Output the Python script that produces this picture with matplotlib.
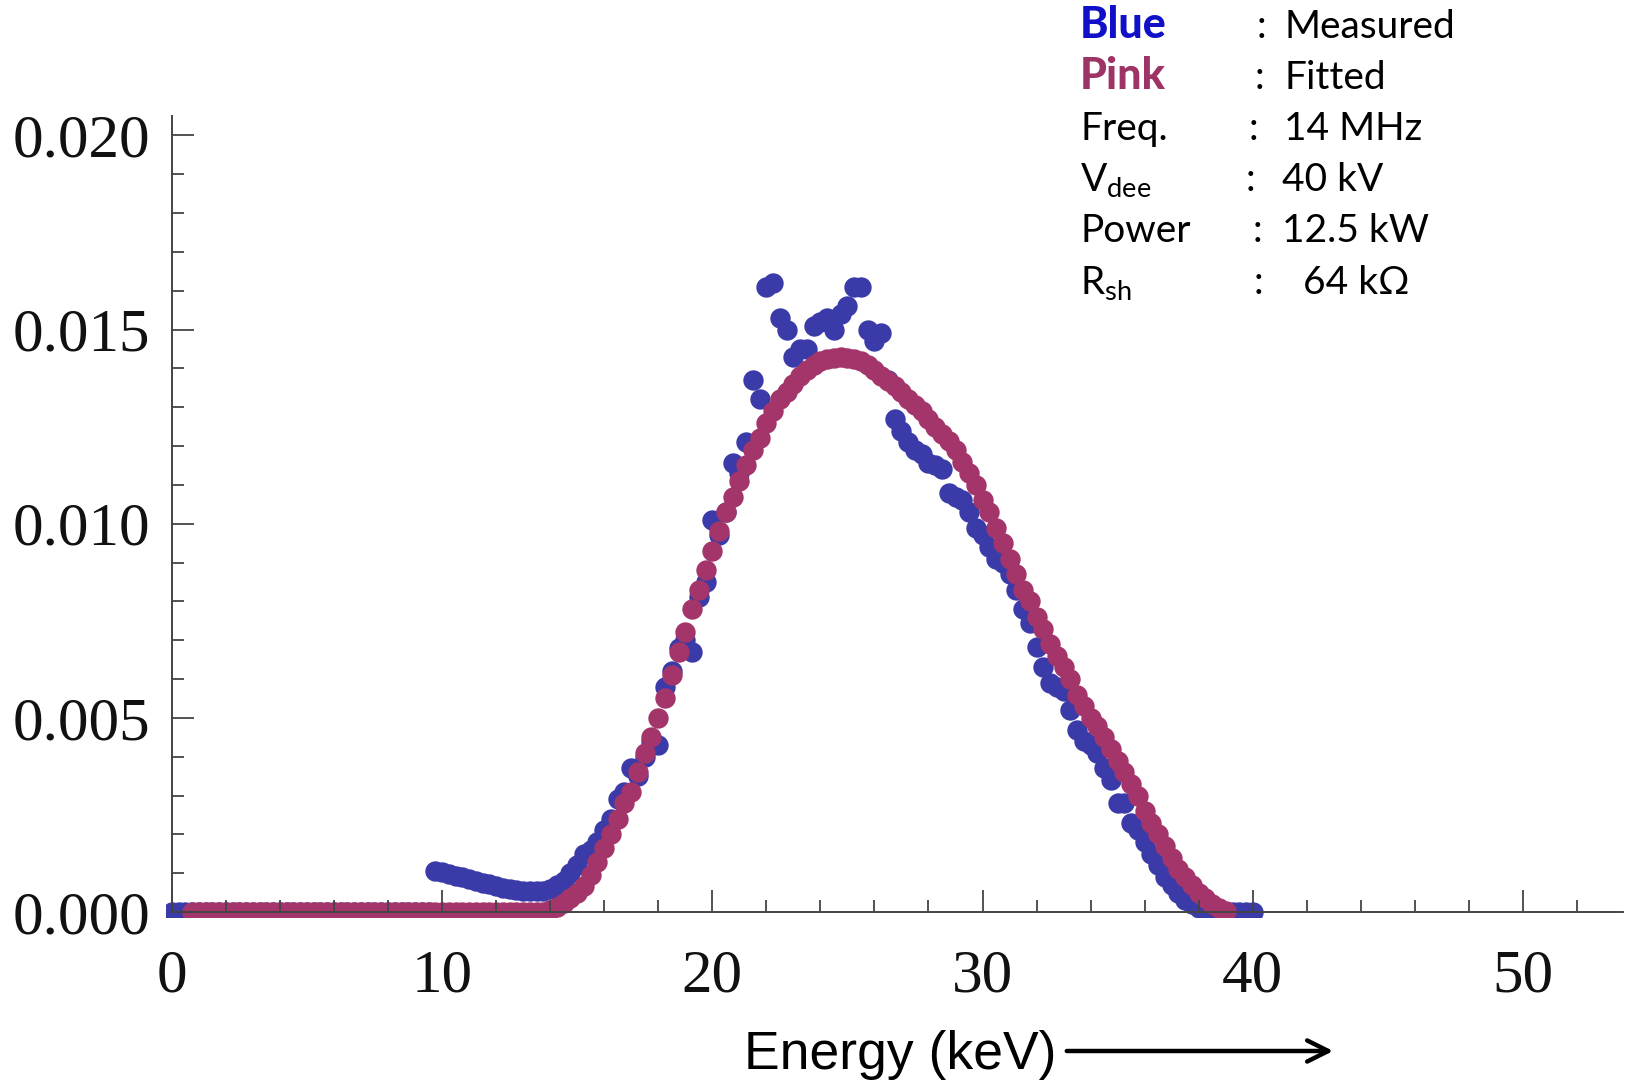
import numpy as np
import matplotlib
matplotlib.use("Agg")
import matplotlib.pyplot as plt
from matplotlib.ticker import MultipleLocator, FormatStrFormatter
from matplotlib.patches import FancyArrowPatch, Rectangle

# ---------------- data ----------------
step_kev = 0.25

measured_start_kev = 0.0
measured = ([0.0] * 39 + [
    0.00105,
    0.00102, 0.00098, 0.00094, 0.00090,
    0.00085, 0.00080, 0.00075, 0.00071,
    0.00067, 0.00063, 0.00060, 0.00057,
    0.00055, 0.00053, 0.00053, 0.00055,
    0.00060, 0.00070, 0.00080, 0.00100,
    0.00120, 0.00150, 0.00160, 0.00180,
    0.00210, 0.00240, 0.00290, 0.00310,
    0.00370, 0.00350, 0.00400, 0.00440,
    0.00430, 0.00580, 0.00620, 0.00680,
    0.00700, 0.00670, 0.00810, 0.00850,
    0.01010, 0.00970, 0.01030, 0.01157,
    0.01130, 0.01210, 0.01370, 0.01320,
    0.01610, 0.01620, 0.01530, 0.01500,
    0.01430, 0.01450, 0.01450, 0.01510,
    0.01520, 0.01530, 0.01500, 0.01540,
    0.01560, 0.01610, 0.01610, 0.01500,
    0.01470, 0.01490, 0.01370, 0.01270,
    0.01240, 0.01210, 0.01190, 0.01180,
    0.01157, 0.01150, 0.01140, 0.01080,
    0.01070, 0.01060, 0.01030, 0.00990,
    0.00970, 0.00940, 0.00910, 0.00900,
    0.00870, 0.00830, 0.00780, 0.00745,
    0.00683, 0.00630, 0.00590, 0.00580,
    0.00570, 0.00520, 0.00470, 0.00440,
    0.00430, 0.00410, 0.00370, 0.00340,
    0.00280, 0.00280, 0.00230, 0.00210,
    0.00180, 0.00150, 0.00120, 0.00090,
    0.00070, 0.00050, 0.00030, 0.00020,
    0.00010, 0.00003,
] + [0.0] * 7)

fitted_start_kev = 0.75
fitted = ([0.0] * 53 + [
    0.00005, 0.00012, 0.00022, 0.00035,
    0.00050, 0.00068, 0.00095, 0.00130,
    0.00165, 0.00200, 0.00240, 0.00280,
    0.00310, 0.00360, 0.00410, 0.00450,
    0.00500, 0.00550, 0.00610, 0.00670,
    0.00720, 0.00780, 0.00830, 0.00880,
    0.00930, 0.00980, 0.01030, 0.01070,
    0.01110, 0.01150, 0.01190, 0.01220,
    0.01260, 0.01290, 0.01320, 0.01340,
    0.01360, 0.01380, 0.01395, 0.01410,
    0.01420, 0.01425, 0.01428, 0.01430,
    0.01428, 0.01425, 0.01420, 0.01410,
    0.01395, 0.01380, 0.01368, 0.01355,
    0.01340, 0.01320, 0.01305, 0.01290,
    0.01270, 0.01250, 0.01230, 0.01212,
    0.01190, 0.01160, 0.01130, 0.01100,
    0.01060, 0.01030, 0.00990, 0.00950,
    0.00910, 0.00870, 0.00830, 0.00800,
    0.00760, 0.00730, 0.00690, 0.00660,
    0.00630, 0.00600, 0.00560, 0.00530,
    0.00500, 0.00480, 0.00450, 0.00420,
    0.00390, 0.00360, 0.00330, 0.00300,
    0.00260, 0.00230, 0.00200, 0.00170,
    0.00140, 0.00110, 0.00090, 0.00070,
    0.00050, 0.00035, 0.00020, 0.00010,
    0.00003,
])

energy_measured = measured_start_kev + step_kev * np.arange(len(measured))
energy_fitted = fitted_start_kev + step_kev * np.arange(len(fitted))

info_labels = ["Freq.", r"V$_{\mathregular{dee}}$", "Power", r"R$_{\mathregular{sh}}$"]
info_values = ["14 MHz", "40 kV", "12.5 kW", "64 k\u03a9"]

# ---------------- figure ----------------
plt.rcParams["mathtext.fontset"] = "custom"
plt.rcParams["mathtext.rm"] = "Lato"
plt.rcParams["mathtext.it"] = "Lato"

W, H = 1628, 1080
fig = plt.figure(figsize=(W / 100, H / 100), dpi=100)
ax = fig.add_axes([171.8 / W, 1 - 912 / H, (1623 - 171.8) / W, (912 - 116) / H])

blue = "#3a3aa8"
pink = "#a3356a"
sc_b = ax.scatter(energy_measured, measured, s=215, color=blue, linewidths=0,
                  zorder=1.0)
sc_p = ax.scatter(energy_fitted, fitted, s=215, color=pink, linewidths=0,
                  zorder=1.5)
clip_rect = Rectangle((-0.2, -0.00012), 60, 1, transform=ax.transData)
for sc in (sc_b, sc_p):
    sc.set_clip_path(clip_rect)

ax.set_xlim(0, 53.7)
ax.set_ylim(0, 0.0205)
ax.set_axisbelow(False)
for side in ("top", "right"):
    ax.spines[side].set_visible(False)
for side in ("left", "bottom"):
    ax.spines[side].set_color("#444444")
    ax.spines[side].set_linewidth(1.4)

ax.xaxis.set_major_locator(MultipleLocator(10))
ax.xaxis.set_minor_locator(MultipleLocator(2))
ax.yaxis.set_major_locator(MultipleLocator(0.005))
ax.yaxis.set_minor_locator(MultipleLocator(0.001))
ax.yaxis.set_major_formatter(FormatStrFormatter("%.3f"))

ax.tick_params(which="both", direction="in", color="#444444", width=1.3,
               labelcolor="#111111")
ax.tick_params(which="major", length=15.5)
ax.tick_params(which="minor", length=8.5)
ax.tick_params(axis="x", which="major", pad=27)
ax.tick_params(axis="y", which="major", pad=15.5)
for lab in ax.get_xticklabels() + ax.get_yticklabels():
    lab.set_fontfamily("Liberation Serif")
    lab.set_fontsize(44)

# axis title with arrow
fig.text(744.5 / W, 1 - 1069.5 / H, "Energy (keV)", fontsize=38.5,
         family="Liberation Sans", ha="left", va="baseline", color="black")
arrow = FancyArrowPatch((1064 / W, 1 - 1051 / H), (1336 / W, 1 - 1051 / H),
                        transform=fig.transFigure, arrowstyle="->",
                        mutation_scale=38, lw=3.2, color="black")
fig.add_artist(arrow)

# info block
fs = 28
label_x = 1080 / W
baselines = [38.4, 89.3, 140.2, 191.0, 241.9, 293.8]
colon_x = [1257, 1255, 1249, 1246, 1253, 1254]
value_x = [1284, 1284, 1284, 1282, 1282, 1303]

fig.text(label_x, 1 - baselines[0] / H, "Blue", fontsize=fs + 3, family="Lato",
         weight="black", color="#1010c8", va="baseline")
fig.text(label_x, 1 - baselines[1] / H, "Pink", fontsize=fs + 3, family="Lato",
         weight="black", color="#9e3466", va="baseline")
for i, lab in enumerate(info_labels):
    fig.text(label_x, 1 - baselines[i + 2] / H, lab, fontsize=fs,
             family="Lato", color="black", va="baseline")

first_values = ["Measured", "Fitted"]
all_values = first_values + info_values
for i, val in enumerate(all_values):
    fig.text(colon_x[i] / W, 1 - baselines[i] / H, ":", fontsize=fs,
             family="Lato", color="black", va="baseline")
    fig.text(value_x[i] / W, 1 - baselines[i] / H, val, fontsize=fs,
             family=["Lato", "DejaVu Sans"], color="black", va="baseline")

fig.savefig("out.png", dpi=100)
